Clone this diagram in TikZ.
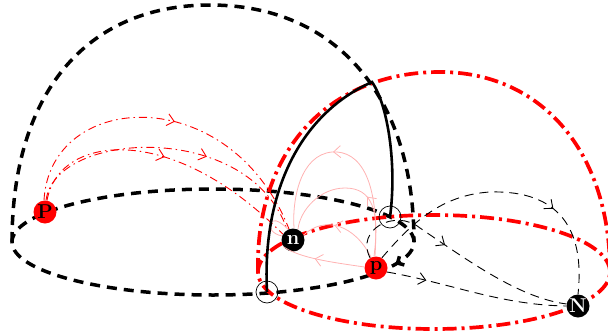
\documentclass[tikz,border=0pt]{standalone}
\usepackage{fontspec}
\setmainfont{Latin Modern Roman}
\usetikzlibrary{decorations.markings,arrows.meta}
\begin{document}
\begin{tikzpicture}[x=1pt,y=-1pt,
  thickdash/.style={line width=3.5pt,black,dash pattern=on 10pt off 7pt},
  reddd/.style={line width=3.7pt,red,dash pattern=on 14pt off 5pt on 3pt off 5pt},
  thinred/.style={line width=0.9pt,red,dash pattern=on 8pt off 4pt on 1.5pt off 4pt},
  thindash/.style={line width=0.9pt,black,dash pattern=on 9pt off 6pt},
  pinkline/.style={line width=0.8pt,red!30},
  lensline/.style={line width=2.6pt,black},
  ring/.style={circle,draw=black,line width=0.7pt,minimum size=22pt,inner sep=0pt},
  ball/.style={circle,fill=#1,inner sep=0pt,minimum size=23pt,font=\fontsize{20}{20}\selectfont\bfseries},
  midarrow/.style={postaction={decorate},decoration={markings,mark=at position #1 with {\arrow{Straight Barb[length=7pt,width=12pt]}}}},
  revarrow/.style={postaction={decorate},decoration={markings,mark=at position #1 with {\arrowreversed{Straight Barb[length=5pt,width=10pt]}}}}
]
\useasboundingbox (0,0) rectangle (608,335);

% black hemisphere
\coordinate (bl) at (12,242);
\coordinate (btop) at (210,5);
\coordinate (br) at (414,242);
\draw[thickdash] (bl) .. controls (12,95) and (85,5) .. (btop) .. controls (335,5) and (414,95) .. (br);
\draw[thickdash,revarrow=0.965] (213,242) ellipse [x radius=201pt,y radius=53pt];

% red hemisphere
\coordinate (rl) at (258,272);
\coordinate (rtop) at (440,72);
\coordinate (rr) at (610,272);
\draw[reddd] (rl) .. controls (255,150) and (330,72) .. (rtop) .. controls (540,72) and (610,150) .. (rr);
\draw[reddd] (434,272) ellipse [x radius=176pt,y radius=57pt];

% nodes
\node[ring] (c1) at (390,217) {};
\node[ring] (c2) at (267,292) {};
\coordinate (apex) at (372,82);

\node[ball=red,text=black] (P) at (45,212) {P};
\node[ball=black,text=white] (n) at (293,240) {n};
\node[ball=red,text=black] (p) at (376,268) {p};
\node[ball=black,text=white] (N) at (578,306) {N};

% red thin dash-dot curves P -> n
\draw[thinred,midarrow=0.52] (P.95) .. controls (50,90) and (230,80) .. (n.110);
\draw[thinred,midarrow=0.62] (P.85) .. controls (55,130) and (250,120) .. (n.120);
\draw[thinred,midarrow=0.5] (P.80) .. controls (58,135) and (170,120) .. (n.150);

% pink curves p -> n
\draw[pinkline,midarrow=0.57] (p.95) .. controls (380,180) and (360,150) .. (332,152) .. controls (300,155) and (292,200) .. (n.85);
\draw[pinkline,midarrow=0.4] (p.100) .. controls (380,210) and (372,188) .. (345,188) .. controls (320,188) and (300,210) .. (n.65);
\draw[pinkline,midarrow=0.6] (p.115) .. controls (355,225) and (325,215) .. (n.25);
\draw[pinkline,midarrow=0.6] (p.175) .. controls (330,262) and (300,258) .. (n.215);
\draw[pinkline] (n.160) .. controls (262,232) and (268,208) .. (n.115);

% lens
\draw[lensline] (c2.center) .. controls (262,195) and (298,115) .. (apex) .. controls (388,105) and (397,165) .. (c1.center);

% black thin dashed p -> N
\draw[thindash,midarrow=0.68] (p.60) .. controls (410,225) and (440,195) .. (490,192) .. controls (560,190) and (585,230) .. (N.90);
\draw[thindash,midarrow=0.45] (p.120) .. controls (355,230) and (395,208) .. (420,228) .. controls (470,262) and (520,298) .. (N.170);
\draw[thindash,midarrow=0.22] (p.-20) .. controls (450,283) and (500,305) .. (N.180);

\end{tikzpicture}
\end{document}
